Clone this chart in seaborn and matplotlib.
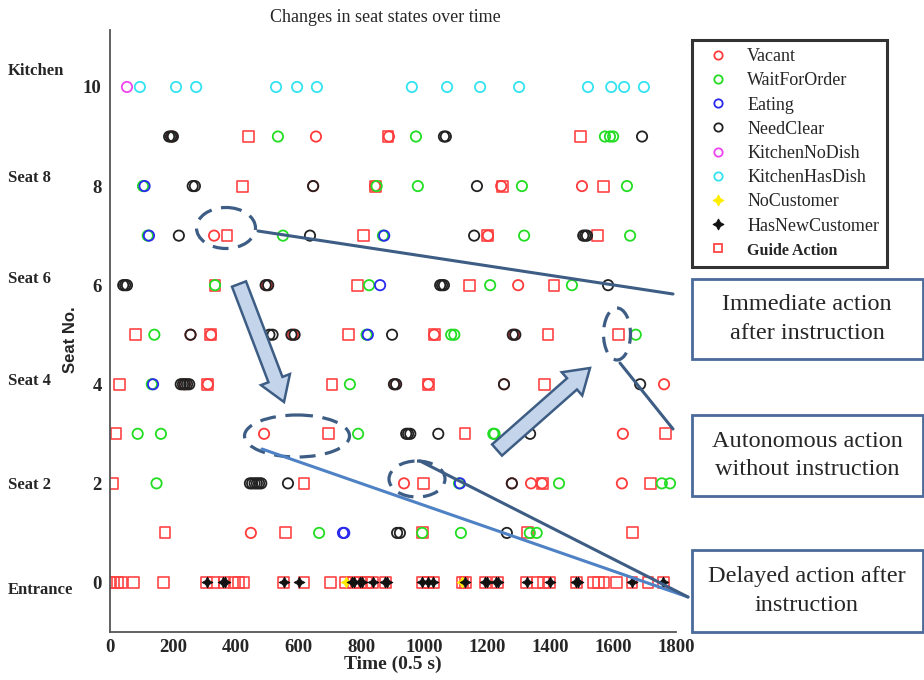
import matplotlib
matplotlib.use('Agg')
import matplotlib.pyplot as plt
import matplotlib.patches as mpatches
from matplotlib.lines import Line2D
import pandas as pd
import seaborn as sns

sns.set_style('white')
plt.rcParams['font.family'] = ['Liberation Serif', 'DejaVu Serif']

# seat -> times (0.5 s steps) for each state
VACANT = {9: [197, 655, 887], 8: [646, 843, 1244, 1501], 7: [331, 1202],
          6: [499, 1298], 5: [256, 321, 582, 1031, 1285],
          4: [238, 311, 906, 1012, 1253, 1762], 3: [490, 1631],
          2: [935, 1278, 1339, 1374, 1628], 1: [448]}
WAIT = {9: [534, 973, 1574, 1590, 1600], 8: [105, 848, 979, 1310, 1644],
        7: [120, 550, 868, 1317, 1654], 6: [334, 824, 1209, 1469],
        5: [141, 816, 1085, 1095, 1672], 4: [133, 763],
        3: [88, 162, 789, 1219, 1223], 2: [148, 1110, 1428, 1755, 1781],
        1: [665, 993, 1116, 1335, 1357]}
EATING = {8: [110], 7: [124, 872], 6: [859], 5: [820], 4: [137], 2: [1113], 1: [741, 745]}
NEEDCLEAR = {9: [188, 194, 200, 1062, 1068, 1692], 8: [263, 270, 646, 1167],
             7: [219, 636, 1158, 1505, 1511, 1517],
             6: [42, 48, 54, 495, 503, 1050, 1056, 1062, 1584],
             5: [256, 507, 517, 577, 587, 897, 1281, 1289],
             4: [225, 232, 238, 245, 252, 903, 910, 1253, 1686],
             3: [942, 948, 955, 1044, 1336],
             2: [445, 452, 460, 467, 474, 481, 566, 1278], 1: [913, 922, 1262]}
KITCHEN_NODISH = {10: [54]}
KITCHEN_HASDISH = {10: [95, 210, 274, 528, 595, 658, 960, 1072, 1177, 1301,
                        1520, 1594, 1635, 1698]}
NOCUSTOMER = {0: [750, 1120]}
NEWCUSTOMER = {0: [308, 360, 366, 553, 602, 770, 776, 794, 800, 836, 874, 880,
                   993, 1012, 1028, 1130, 1192, 1198, 1228, 1234, 1326, 1399,
                   1482, 1488, 1660, 1759]}
GUIDE = {9: [439, 884, 1495], 8: [420, 843, 1248, 1568], 7: [372, 805, 1202, 1549],
         6: [334, 786, 1142, 1412], 5: [82, 321, 757, 1031, 1393, 1616],
         4: [29, 311, 706, 1012, 1383], 3: [19, 694, 1129, 1768],
         2: [7, 617, 996, 1374, 1720], 1: [175, 559, 993, 1329, 1663],
         0: [0, 12, 24, 36, 74, 169, 308, 328, 363, 396, 410, 424, 553, 617, 700,
             750, 773, 797, 816, 836, 877, 993, 1012, 1028, 1120, 1130, 1195,
             1231, 1326, 1361, 1380, 1399, 1485, 1539, 1555, 1571, 1612, 1660,
             1711, 1759]}

STATES = ['Vacant', 'WaitForOrder', 'Eating', 'NeedClear', 'KitchenNoDish',
          'KitchenHasDish', 'NoCustomer', 'HasNewCustomer', 'Guide Action']
SOURCES = [VACANT, WAIT, EATING, NEEDCLEAR, KITCHEN_NODISH, KITCHEN_HASDISH,
           NOCUSTOMER, NEWCUSTOMER, GUIDE]
COLORS = ['#ff3b3b', '#22dd22', '#2a2aee', '#222222', '#ee44ee', '#33e3f0',
          '#ffee00', '#111111', '#ff4444']
MARKERS = ['o', 'o', 'o', 'o', 'o', 'o', (4, 1, 0), (4, 1, 0), 's']

SIDE_LABELS = ['Kitchen', 'Seat 8', 'Seat 6', 'Seat 4', 'Seat 2', 'Entrance']

rows = []
for state, src in zip(STATES, SOURCES):
    for seat, times in src.items():
        for t in times:
            rows.append({'time': t, 'seat': seat, 'state': state})
df = pd.DataFrame(rows)

fig = plt.figure(figsize=(9.24, 6.8), dpi=100)
ax = fig.add_axes([110 / 924, 48 / 680, 566 / 924, 602 / 680])

# squares underneath, then circles, then customer stars on top
draw_order = [8, 0, 1, 2, 3, 4, 5, 6, 7]
for i in draw_order:
    sub = df[df['state'] == STATES[i]]
    c = COLORS[i]
    if MARKERS[i] == 'o':
        sns.scatterplot(data=sub, x='time', y='seat', marker='o', s=55, color=c,
                        facecolor='none', edgecolor=c, linewidth=1.3, ax=ax, legend=False)
    elif MARKERS[i] == 's':
        sns.scatterplot(data=sub, x='time', y='seat', marker='s', s=62, color=c,
                        facecolor='none', edgecolor=c, linewidth=1.2, ax=ax, legend=False)
    else:
        sns.scatterplot(data=sub, x='time', y='seat', marker=MARKERS[i], s=60, color=c,
                        edgecolor=c, linewidth=0.6, ax=ax, legend=False, zorder=4)

ax.set_xlim(0, 1800)
ax.set_ylim(-1, 11.15)
ax.set_xticks(range(0, 1801, 200))
ax.set_yticks(range(0, 11, 2))
for lab in ax.get_xticklabels() + ax.get_yticklabels():
    lab.set_fontweight('bold')
    lab.set_fontsize(13.5)
ax.tick_params(axis='x', direction='in', length=5, width=1, pad=5)
ax.tick_params(axis='y', direction='out', length=4, width=1, pad=2)
for sp in ['top', 'right']:
    ax.spines[sp].set_visible(False)
for sp in ['left', 'bottom']:
    ax.spines[sp].set_color('#555555')
    ax.spines[sp].set_linewidth(1.3)
ax.set_xlabel('Time (0.5 s)', fontsize=14, fontweight='bold')
ax.set_ylabel('Seat No.', fontsize=12, fontweight='bold', family=['Liberation Sans'])
ax.xaxis.set_label_coords(0.50, -0.04)
ax.yaxis.set_label_coords(-0.056, 0.485)

# overlay in pixel coordinates for the annotations
ov = fig.add_axes([0, 0, 1, 1], facecolor='none')
ov.set_xlim(0, 924)
ov.set_ylim(680, 0)
ov.axis('off')

ov.text(385, 18, 'Changes in seat states over time', ha='center', va='center', fontsize=13)
for lab, py in zip(SIDE_LABELS, [71, 178, 279, 381, 485, 590]):
    ov.text(8, py, lab, ha='left', va='center', fontsize=12, fontweight='bold')

dark = '#3d5d85'
ell_specs = [((226, 228), 59, 41), ((297, 436), 105, 42), ((417, 479), 56, 36), ((617, 334), 27, 52)]
for (cx, cy), w, h in ell_specs:
    ov.add_patch(mpatches.Ellipse((cx, cy), w, h, fill=False, ec=dark, lw=2.3,
                                  linestyle=(0, (5, 3))))

ov.plot([258, 673], [231, 294], color=dark, lw=2.2)
ov.plot([262, 688], [449, 597], color='#4f82c4', lw=2.2)
ov.plot([420, 688], [461, 597], color=dark, lw=2.2)
ov.plot([620, 673], [363, 429], color=dark, lw=2.2)

for (x0, y0), (x1, y1) in [((239, 284), (284, 402)), ((497, 450), (590, 368))]:
    ov.add_patch(mpatches.FancyArrow(x0, y0, x1 - x0, y1 - y0, width=15,
                                     head_width=31, head_length=24,
                                     length_includes_head=True,
                                     fc='#c4d4ea', ec=dark, lw=1.8))

boxes = [(279, 359, 'Immediate action\nafter instruction'),
         (415, 496, 'Autonomous action\nwithout instruction'),
         (550, 632, 'Delayed action after\ninstruction')]
for top, bot, txt in boxes:
    ov.add_patch(mpatches.Rectangle((692, top), 231, bot - top, fill=True, fc='white',
                                    ec='#4a6a9a', lw=2))
    ov.text(807, (top + bot) / 2, txt, ha='center', va='center', fontsize=17.5,
            linespacing=1.45)

handles = []
for i, st in enumerate(STATES):
    c = COLORS[i]
    if MARKERS[i] in ('o', 's'):
        handles.append(Line2D([], [], ls='none', marker=MARKERS[i], ms=6, mfc='none',
                              mec=c, mew=1.3, label=st))
    else:
        handles.append(Line2D([], [], ls='none', marker=MARKERS[i], ms=8, mfc=c,
                              mec=c, mew=0.6, label=st))
leg = fig.legend(handles=handles, loc='upper left', bbox_to_anchor=(692 / 924, 1 - 40 / 680),
                 borderaxespad=0, frameon=True, fancybox=False, fontsize=13,
                 handletextpad=0.6, labelspacing=0.4, borderpad=0.45, handlelength=2.0)
leg.get_frame().set_edgecolor('black')
leg.get_frame().set_linewidth(2.2)
leg.get_texts()[-1].set_fontsize(11.5)
leg.get_texts()[-1].set_fontweight('bold')

fig.savefig('out.png', dpi=100)
